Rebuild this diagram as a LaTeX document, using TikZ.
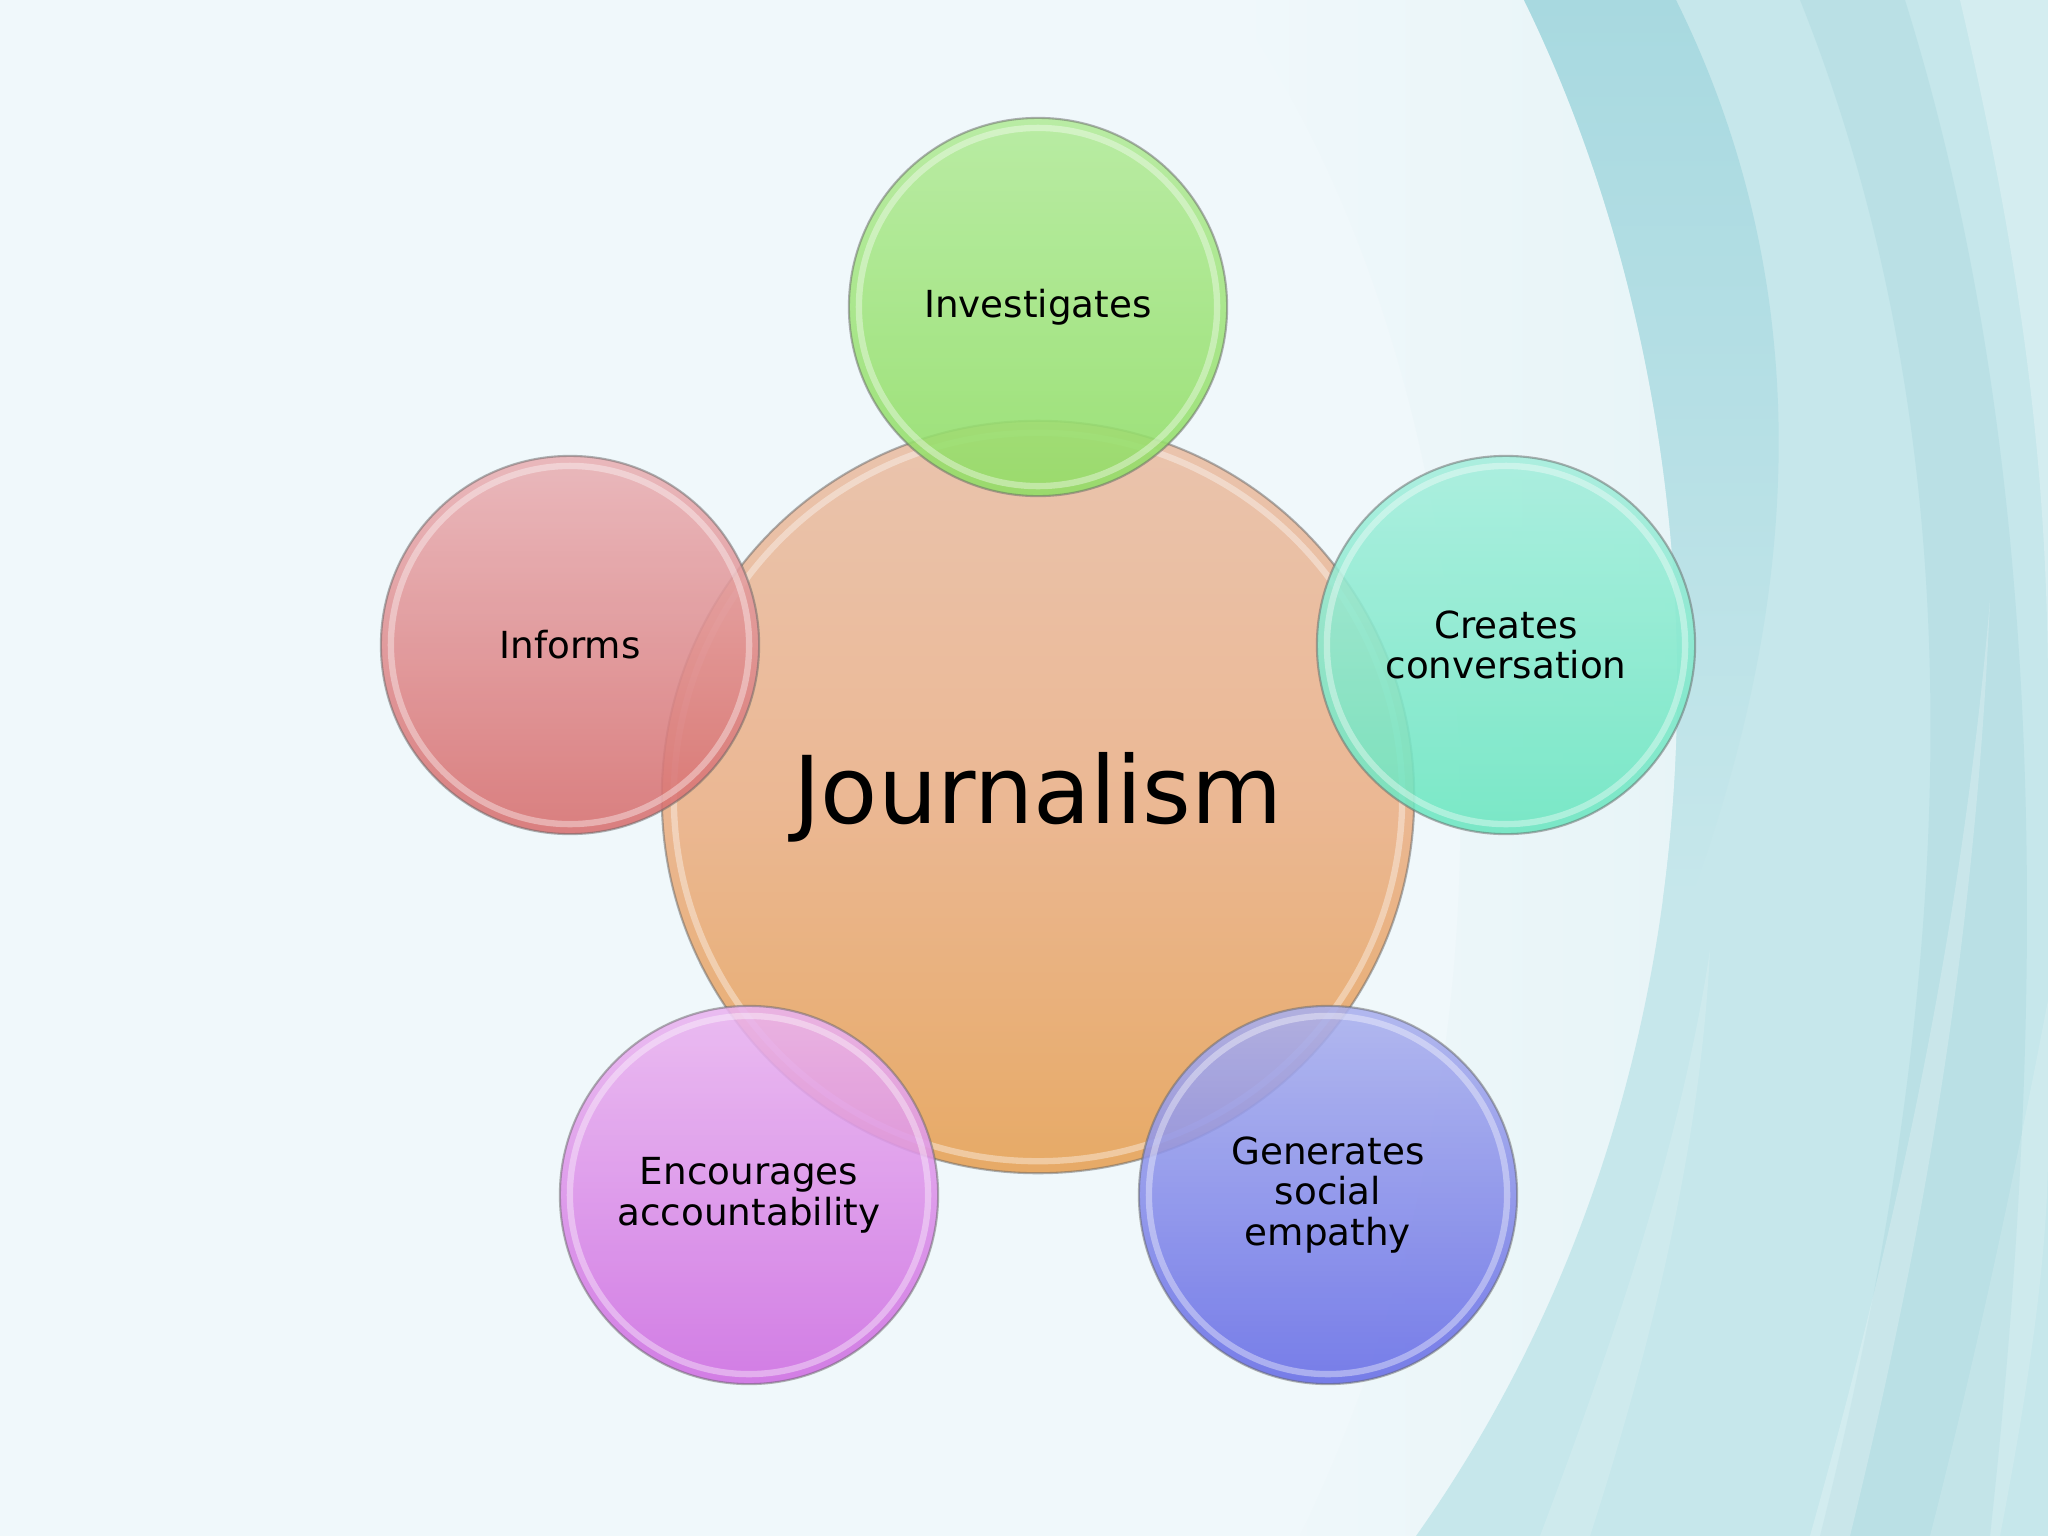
\documentclass[tikz,border=0pt]{standalone}
\usepackage{fontspec}
\setmainfont{DejaVu Sans}
\definecolor{bgc}{HTML}{F0F8FB}
\definecolor{swA}{HTML}{E0F1F4}
\definecolor{swB}{HTML}{C6E7EB}
\definecolor{swC}{HTML}{A8D9E0}
\definecolor{swD}{HTML}{B2DCE2}
\definecolor{orT}{HTML}{EAC4AE}
\definecolor{orM}{HTML}{EBB894}
\definecolor{orB}{HTML}{E7AA66}
\definecolor{grT}{HTML}{B2EB98}
\definecolor{grB}{HTML}{90DE64}
\definecolor{rdT}{HTML}{E9B0B4}
\definecolor{rdB}{HTML}{D76E6E}
\definecolor{tlT}{HTML}{A4EEDC}
\definecolor{tlB}{HTML}{6AE6C0}
\definecolor{mgT}{HTML}{EAB4F0}
\definecolor{mgB}{HTML}{CE6CE2}
\definecolor{blT}{HTML}{AAB0EE}
\definecolor{blB}{HTML}{666CE6}
\tikzset{
  sat/.style 2 args={circle, minimum size=3.78cm, inner sep=0pt,
    top color=#1, bottom color=#2, draw=black!60, line width=0.6pt,
    fill opacity=0.88, draw opacity=0.5, text opacity=1, align=center,
    font=\fontsize{10.6}{11.6}\selectfont},
  rim/.style={white, line width=1.8pt, opacity=0.38},
  hub/.style={circle, minimum size=7.52cm, inner sep=0pt,
    top color=orT, bottom color=orB, middle color=orM, draw=black!60, line width=0.6pt,
    draw opacity=0.5, font=\fontsize{26.6}{30}\selectfont},
  streak/.style={fill=white}
}
\begin{document}
\begin{tikzpicture}[x=0.01cm,y=-0.01cm]
\useasboundingbox (0,0) rectangle (2048,1536);
\fill[bgc] (0,0) rectangle (2048,1536);
% background swooshes
\begin{scope}
\clip (0,0) rectangle (2048,1536);
\shade[left color=bgc, right color=swA] (1230,0) .. controls (1480,350) and (1560,1000) .. (1300,1536) -- (2048,1536) -- (2048,0) -- cycle;
\fill[swB] (1524,0) .. controls (1730,420) and (1760,1050) .. (1416,1536) -- (2048,1536) -- (2048,0) -- cycle;
\begin{scope}
\clip (1524,0) .. controls (1730,420) and (1760,1050) .. (1416,1536) -- (2048,1536) -- (2048,0) -- cycle;
\shade[top color=swC, bottom color=swB] (1400,0) -- (1676,0) .. controls (1800,250) and (1820,550) .. (1690,900) -- (1400,900) -- cycle;
\end{scope}
\fill[swD, opacity=0.6] (1800,0) .. controls (1960,400) and (1980,900) .. (1820,1536) -- (1990,1536) .. controls (2060,900) and (2030,400) .. (1905,0) -- cycle;
\fill[white, opacity=0.25] (1960,0) .. controls (2030,300) and (2048,500) .. (2048,700) -- (2048,0) -- cycle;
\fill[streak, opacity=0.22] (1990,600) .. controls (1960,950) and (1890,1250) .. (1810,1536) -- (1850,1536) .. controls (1920,1250) and (1975,950) .. (1990,600) -- cycle;
\fill[streak, opacity=0.15] (1710,950) .. controls (1680,1150) and (1610,1350) .. (1540,1536) -- (1590,1536) .. controls (1650,1350) and (1700,1150) .. (1710,950) -- cycle;
\fill[streak, opacity=0.14] (2048,1000) .. controls (2010,1200) and (1970,1380) .. (1930,1536) -- (2000,1536) .. controls (2030,1380) and (2048,1250) .. (2048,1150) -- cycle;
\end{scope}
% hub
\node[hub] (hub) at (1038,797) {Journalism};
\draw[rim] (hub.center) circle (3.64cm);
% satellites
\node[sat={grT}{grB}] (inv) at (1038,307) {Investigates};
\draw[rim] (inv.center) circle (1.79cm);
\node[sat={rdT}{rdB}] (inf) at (570,645) {Informs};
\draw[rim] (inf.center) circle (1.79cm);
\node[sat={tlT}{tlB}] (cre) at (1506,645) {Creates\\conversation};
\draw[rim] (cre.center) circle (1.79cm);
\node[sat={mgT}{mgB}] (enc) at (749,1195) {Encourages\\accountability};
\draw[rim] (enc.center) circle (1.79cm);
\node[sat={blT}{blB}] (gen) at (1328,1195) {Generates\\social\\empathy};
\draw[rim] (gen.center) circle (1.79cm);
\end{tikzpicture}
\end{document}
